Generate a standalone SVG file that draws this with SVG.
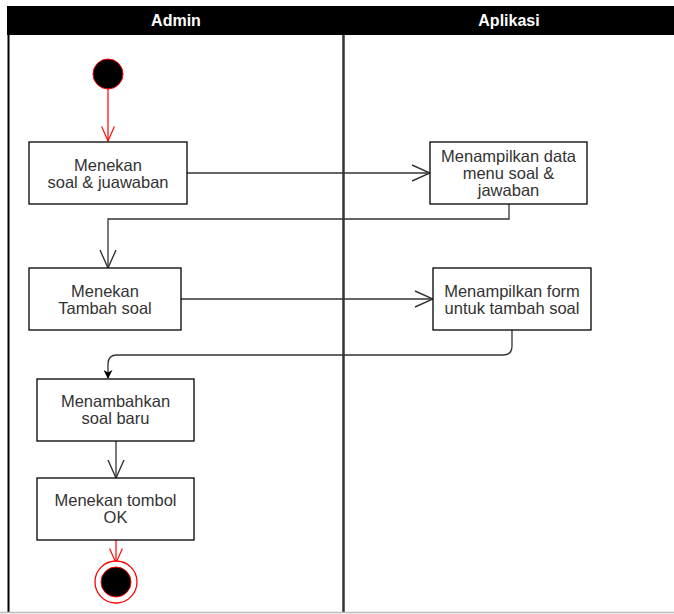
<svg xmlns="http://www.w3.org/2000/svg" width="674" height="614" viewBox="0 0 674 614">
<style>
.box{fill:#fff;stroke:#000;stroke-width:1.3}
.t{font-family:"Liberation Sans",Arial,sans-serif;font-size:16.5px;fill:#333;text-anchor:middle}
.h{font-family:"Liberation Sans",Arial,sans-serif;font-size:16px;font-weight:bold;fill:#fff;text-anchor:middle}
.c{fill:none;stroke:#333;stroke-width:1.3}
.r{fill:none;stroke:#ff0000;stroke-width:1.2}
</style>
<defs>
<marker id="open" viewBox="0 0 20 20" refX="19" refY="10" markerWidth="20" markerHeight="20" markerUnits="userSpaceOnUse" orient="auto">
<path d="M1,2 L19,10 L1,18" fill="none" stroke="#333" stroke-width="1.4"/>
</marker>
<marker id="openr" viewBox="0 0 20 20" refX="19" refY="10" markerWidth="16" markerHeight="16" markerUnits="userSpaceOnUse" orient="auto">
<path d="M1,2 L19,10 L1,18" fill="none" stroke="#ff0000" stroke-width="1.4"/>
</marker>
<marker id="fill" viewBox="0 0 10 10" refX="9" refY="5" markerWidth="9" markerHeight="9" markerUnits="userSpaceOnUse" orient="auto">
<path d="M0,0 L10,5 L0,10 L3,5 Z" fill="#000"/>
</marker>
</defs>
<rect width="674" height="614" fill="#fff"/>
<g id="pool">
<rect x="7" y="6" width="667" height="29" fill="#000"/>
<text class="h" x="176" y="26">Admin</text>
<text class="h" x="509" y="26">Aplikasi</text>
<line x1="8.5" y1="35" x2="8.5" y2="612" stroke="#000" stroke-width="2"/>
<line x1="343.5" y1="35" x2="343.5" y2="612" stroke="#333" stroke-width="2.5"/>
<line x1="0" y1="612.5" x2="674" y2="612.5" stroke="#bbb" stroke-width="1.5"/>
</g>
<g id="connectors">
<line class="r" x1="108" y1="89" x2="108" y2="141" marker-end="url(#openr)"/>
<line class="c" x1="187" y1="173" x2="430" y2="173" marker-end="url(#open)"/>
<path class="c" d="M509,204 V219 H108 V268" marker-end="url(#open)"/>
<line class="c" x1="181" y1="299" x2="433" y2="299" marker-end="url(#open)"/>
<path class="c" d="M512,330 V346 Q512,355 503,355 H117 Q108,355 108,364 V378" marker-end="url(#fill)"/>
<line class="c" x1="116" y1="441" x2="116" y2="478" marker-end="url(#open)"/>
<line class="r" x1="116" y1="540" x2="116" y2="563" marker-end="url(#openr)"/>
</g>
<g id="start">
<circle cx="108" cy="74" r="15" fill="#000" stroke="#ff0000" stroke-width="1"/>
</g>
<g id="n1">
<rect class="box" x="29" y="142" width="158" height="62"/>
<text class="t" x="108" y="171">Menekan</text>
<text class="t" x="108" y="188">soal &amp; juawaban</text>
</g>
<g id="n2">
<rect class="box" x="430" y="142" width="157" height="62"/>
<text class="t" x="508.5" y="162">Menampilkan data</text>
<text class="t" x="508.5" y="179">menu soal &amp;</text>
<text class="t" x="508.5" y="196">jawaban</text>
</g>
<g id="n3">
<rect class="box" x="29" y="268" width="152" height="62"/>
<text class="t" x="105" y="297">Menekan</text>
<text class="t" x="105" y="314">Tambah soal</text>
</g>
<g id="n4">
<rect class="box" x="433" y="268" width="158" height="62"/>
<text class="t" x="512" y="297">Menampilkan form</text>
<text class="t" x="512" y="314">untuk tambah soal</text>
</g>
<g id="n5">
<rect class="box" x="37" y="379" width="157" height="62"/>
<text class="t" x="115.5" y="407">Menambahkan</text>
<text class="t" x="115.5" y="424">soal baru</text>
</g>
<g id="n6">
<rect class="box" x="37" y="478" width="157" height="62"/>
<text class="t" x="115.5" y="506">Menekan tombol</text>
<text class="t" x="115.5" y="523">OK</text>
</g>
<g id="end">
<circle cx="116" cy="582" r="21" fill="#fff" stroke="#ff0000" stroke-width="1.3"/>
<circle cx="116" cy="582" r="15" fill="#000" stroke="#ff0000" stroke-width="1"/>
</g>
</svg>
